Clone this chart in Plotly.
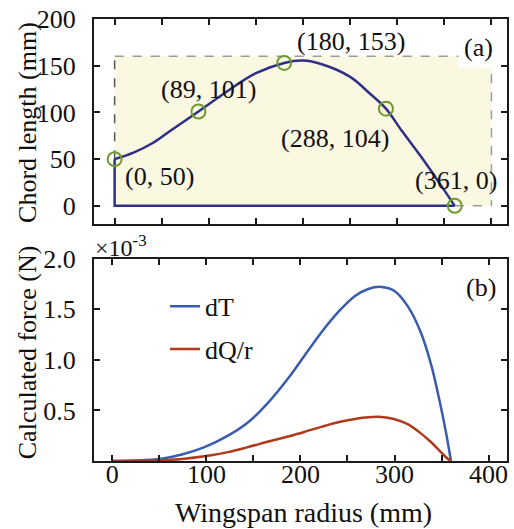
import plotly.graph_objects as go

# ---------- data ----------
span_x = [0, 20, 40, 60, 89, 120, 150, 180, 200, 220, 250, 270, 288, 305, 325, 343, 361]
chord_y = [50, 57, 67, 81, 101, 123, 142, 153, 155.5, 151.5, 138, 121, 104, 80, 53, 27, 0]

outline_x = [0, 0, 361]
outline_y = [50, 0, 0]

key_x = [0, 89, 180, 288, 361]
key_y = [50, 101, 153, 104, 0]
key_labels = ["(0, 50)", "(89, 101)", "(180, 153)", "(288, 104)", "(361, 0)"]

radius = [0, 25, 52, 74, 98, 123, 144, 165, 188, 205, 223, 241, 258, 272, 286, 300, 314, 328, 339, 348, 355, 360]
dT = [0, 0.005, 0.023, 0.065, 0.137, 0.25, 0.38, 0.57, 0.83, 1.05, 1.28, 1.48, 1.63, 1.70, 1.72, 1.68, 1.53, 1.27, 0.95, 0.59, 0.27, 0]
dQr = [0, 0.002, 0.006, 0.02, 0.046, 0.088, 0.137, 0.19, 0.245, 0.29, 0.34, 0.385, 0.415, 0.432, 0.435, 0.413, 0.364, 0.273, 0.185, 0.10, 0.035, 0]

top_yticks = [0, 50, 100, 150, 200]
bot_xticks = [0, 50, 100, 150, 200, 250, 300, 350, 400]
bot_xlabels = ["0", "", "100", "", "200", "", "300", "", "400"]
bot_yticks = [0.5, 1.0, 1.5, 2.0]
bot_ylabels = ["0.5", "1.0", "1.5", "2.0"]

# ---------- style ----------
FONT = "Liberation Serif, Times New Roman, Times, serif"
NAVY = "#2E2F86"
GREEN = "#6E9B2E"
BLUE = "#3A5CAD"
RED = "#B03A1C"
YELLOW = "#FBF8E1"
FS = 26
TICK_FS = 26
TXT = "#111"

label_shift = [(45, -17), (10, 22), (67, 21), (-51, -30), (1, 25)]

fig = go.Figure()

fig.add_trace(go.Scatter(x=outline_x, y=outline_y, mode="lines",
                         line=dict(color=NAVY, width=2.5), showlegend=False,
                         xaxis="x", yaxis="y"))
fig.add_trace(go.Scatter(x=span_x, y=chord_y, mode="lines",
                         line=dict(color=NAVY, width=2.5, shape="spline", smoothing=1),
                         showlegend=False, xaxis="x", yaxis="y"))
fig.add_trace(go.Scatter(x=key_x, y=key_y, mode="markers",
                         marker=dict(symbol="circle-open", size=14, color=GREEN,
                                     line=dict(width=2, color=GREEN)),
                         showlegend=False, xaxis="x", yaxis="y"))

fig.add_trace(go.Scatter(x=radius, y=dT, mode="lines", name="dT",
                         line=dict(color=BLUE, width=2.5, shape="spline", smoothing=1),
                         legendgroup="a", xaxis="x2", yaxis="y2"))
fig.add_trace(go.Scatter(x=radius, y=dQr, mode="lines", name="dQ/r",
                         line=dict(color=RED, width=2.5, shape="spline", smoothing=1),
                         legendgroup="b", xaxis="x2", yaxis="y2"))

# shaded planform box
fig.add_shape(type="rect", xref="x", yref="y", x0=0, x1=400, y0=0, y1=160,
              fillcolor=YELLOW, line=dict(width=0), layer="below")
for (xa, ya, xb, yb, c) in [(0, 160, 400, 160, "#9a9a9a"), (400, 160, 400, 0, "#9a9a9a"),
                            (361, 0, 400, 0, "#9a9a9a"), (0, 50, 0, 160, "#555555")]:
    fig.add_shape(type="line", xref="x", yref="y", x0=xa, y0=ya, x1=xb, y1=yb,
                  line=dict(color=c, width=1.5, dash="dash"), layer="below")

for (px, py, t, (dx, dy)) in zip(key_x, key_y, key_labels, label_shift):
    fig.add_annotation(x=px, y=py, xref="x", yref="y", text=t, showarrow=False,
                       xanchor="center", yanchor="middle",
                       xshift=dx, yshift=dy, font=dict(family=FONT, size=FS, color=TXT))


def paper_text(x, y, text, size, angle=0, xanchor="center", **kw):
    fig.add_annotation(x=x, y=y, xref="paper", yref="paper", text=text, showarrow=False,
                       xanchor=xanchor, yanchor="middle", textangle=angle,
                       font=dict(family=FONT, size=size, color=TXT), **kw)


paper_text(0.931, 0.935, "(a)", FS, bgcolor="white", borderpad=5)
paper_text(0.936, 0.392, "(b)", FS)
paper_text(-0.002, 0.4855, "×10<sup>-3</sup>", 24, xanchor="left")

# axis titles
paper_text(-0.161, 0.766, "Chord length (mm)", FS, angle=-90)
paper_text(-0.161, 0.245, "Calculated force (N)", FS, angle=-90)
paper_text(0.507, -0.1158, "Wingspan radius (mm)", 28)

axis_common = dict(showline=True, linecolor="#1a1a1a", linewidth=2, mirror="ticks",
                   ticks="inside", ticklen=6, tickwidth=2, tickcolor="#1a1a1a",
                   showgrid=False, zeroline=False,
                   tickfont=dict(family=FONT, size=TICK_FS, color=TXT))

fig.update_layout(
    width=514, height=529,
    margin=dict(l=94, r=5, t=12, b=68),
    paper_bgcolor="white", plot_bgcolor="white",
    font=dict(family=FONT, size=FS, color=TXT),
    xaxis=dict(domain=[0, 1], range=[-21.9, 416.5], anchor="y",
               tickvals=bot_xticks, showticklabels=False, **axis_common),
    yaxis=dict(domain=[0.5367, 1], range=[-19.2, 200], anchor="x",
               tickvals=top_yticks, ticklabelstandoff=11, **axis_common),
    xaxis2=dict(domain=[0, 1], range=[-19.5, 419.6], anchor="y2",
                tickvals=bot_xticks, ticktext=bot_xlabels, ticklabelstandoff=-11,
                **axis_common),
    yaxis2=dict(domain=[0, 0.4579], range=[0, 2.0], anchor="x2",
                tickvals=bot_yticks, ticktext=bot_ylabels, ticklabelstandoff=11,
                **axis_common),
    legend=dict(x=0.172, y=0.403, xanchor="left", yanchor="top", bgcolor="rgba(0,0,0,0)",
                tracegroupgap=6, font=dict(family=FONT, size=FS, color=TXT)),
)

fig.write_html("out.html")
